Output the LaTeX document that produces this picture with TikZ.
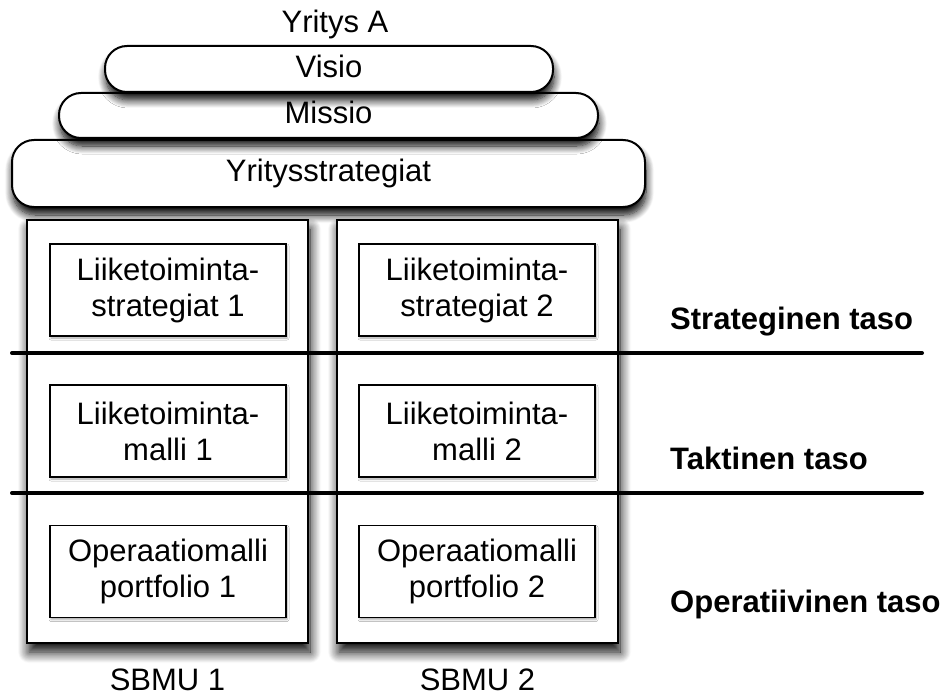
\documentclass[tikz,border=0pt]{standalone}
\usepackage{fontspec}
\setmainfont{Liberation Sans}
\usetikzlibrary{shadows.blur}

\tikzset{
  txt/.style={font=\fontsize{31}{36}\selectfont, inner sep=0pt},
  boldtxt/.style={font=\fontsize{31}{36}\selectfont\bfseries, inner sep=0pt, anchor=base west},
  pill/.style={draw=black, line width=2pt, fill=white, rounded corners=22pt,
    txt, text height=22pt, text depth=5pt,
    blur shadow={shadow xshift=1pt, shadow yshift=-8pt, shadow blur radius=8pt, shadow opacity=100, shadow blur steps=12}},
  unitbox/.style={draw=black, line width=2pt, fill=white, minimum width=281pt, minimum height=423pt,
    blur shadow={shadow xshift=2pt, shadow yshift=-9pt, shadow blur radius=11pt, shadow opacity=100, shadow blur steps=14}},
  innerbox/.style={draw=black, line width=1.6pt, fill=white, minimum width=236pt, minimum height=92pt,
    align=center, txt,
    blur shadow={shadow xshift=1pt, shadow yshift=-2pt, shadow blur radius=2pt, shadow opacity=35}},
  levelline/.style={line width=4pt, line cap=round},
}

\begin{document}
\begin{tikzpicture}[x=1pt, y=-1pt]
\useasboundingbox (0,0) rectangle (947,695);

% Company title and the stacked pills
\node[txt, anchor=base] (yritys) at (335,33) {Yritys A};
\node[pill, minimum width=633pt, minimum height=67pt] (ystrat) at (328.5,173.5) {Yritysstrategiat};
\node[pill, minimum width=539pt, minimum height=45pt] (missio) at (328.5,115.5) {Missio};
\node[pill, minimum width=448pt, minimum height=46pt] (visio) at (329,69) {Visio};

% Strategic business units
\node[unitbox] (sbmu1) at (167.5,431.5) {};
\node[unitbox] (sbmu2) at (477.5,431.5) {};

% Contents of each unit
\node[innerbox] (ls1) at (168,290) {Liiketoiminta-\\strategiat 1};
\node[innerbox] (ls2) at (477,290) {Liiketoiminta-\\strategiat 2};
\node[innerbox] (lm1) at (168,431) {Liiketoiminta-\\malli 1};
\node[innerbox] (lm2) at (477,431) {Liiketoiminta-\\malli 2};
\node[innerbox] (op1) at (168,571.5) {Operaatiomalli\\portfolio 1};
\node[innerbox] (op2) at (477,571.5) {Operaatiomalli\\portfolio 2};

% Unit labels
\node[txt, anchor=base] (lab1) at (167.5,690) {SBMU 1};
\node[txt, anchor=base] (lab2) at (477.5,690) {SBMU 2};

% Level separators
\coordinate (s1a) at (12,353);
\coordinate (s1b) at (922,353);
\coordinate (s2a) at (12,493);
\coordinate (s2b) at (922,493);
\draw[levelline] (s1a) -- (s1b);
\draw[levelline] (s2a) -- (s2b);

% Level names
\node[boldtxt] (strat) at (670,329) {Strateginen taso};
\node[boldtxt] (takt) at (670,469) {Taktinen taso};
\node[boldtxt] (oper) at (670,612) {Operatiivinen taso};
\end{tikzpicture}
\end{document}
